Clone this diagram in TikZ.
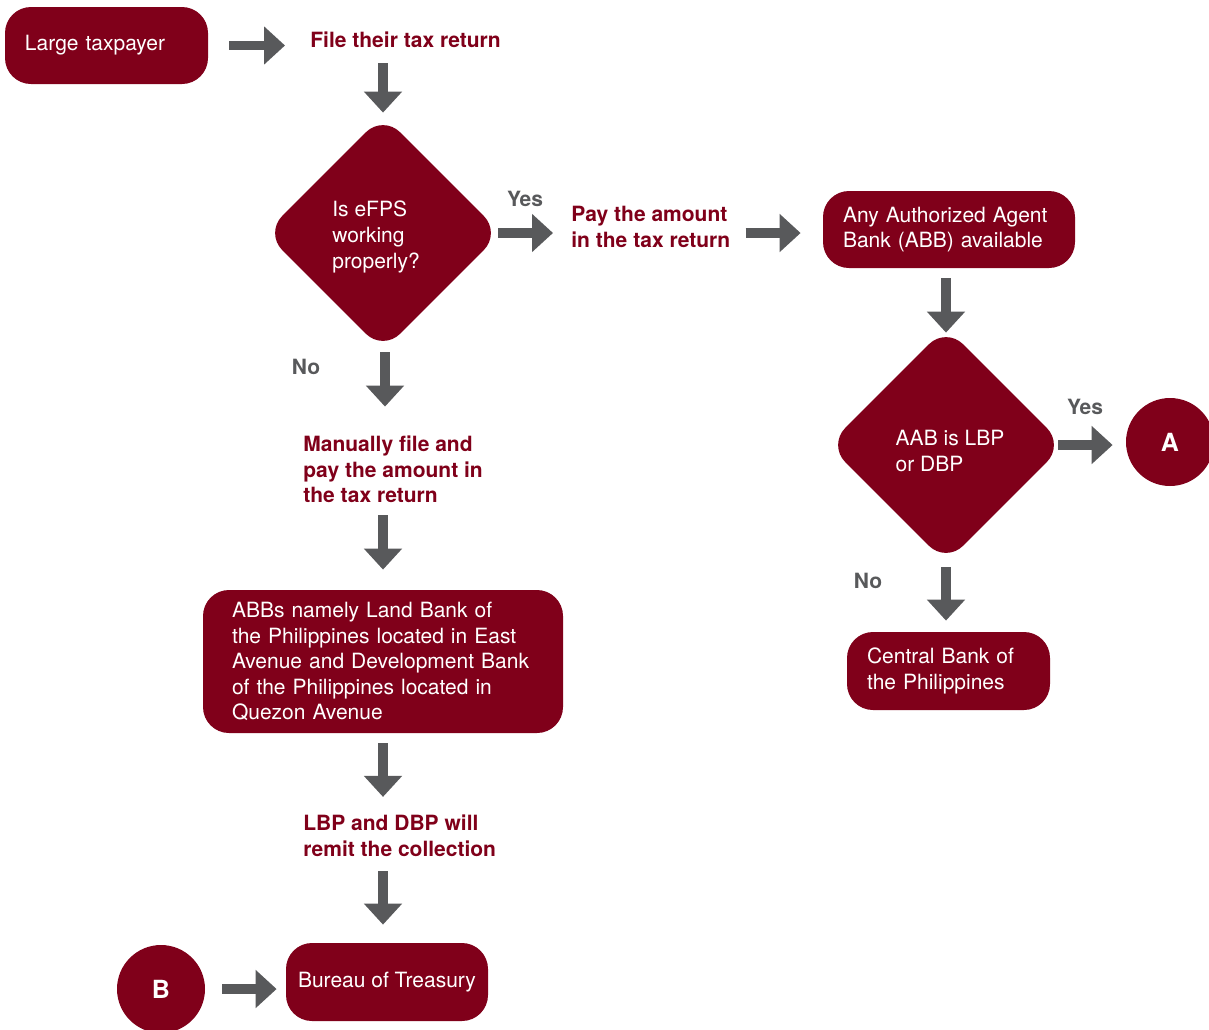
\documentclass[tikz,border=0pt]{standalone}
\usepackage{fontspec}
\setmainfont{TeX Gyre Heros}
\usepackage{xcolor}
\usetikzlibrary{positioning,shapes.geometric,arrows.meta}
\definecolor{bred}{HTML}{80001A}
\definecolor{agray}{HTML}{58595B}

\begin{document}
\begin{tikzpicture}[
  x=0.5pt, y=-0.5pt,
  font=\fontsize{10.5}{12.8}\selectfont,
  rbox/.style={fill=bred, text=white, rounded corners=13pt, align=left,
               inner xsep=10pt, inner ysep=0pt, minimum height=38.5pt},
  qbox/.style={diamond, aspect=1, fill=bred, rounded corners=12pt,
               inner sep=0pt, minimum width=118pt, minimum height=118pt},
  qtxt/.style={text=white, align=left, inner sep=0pt},
  endpt/.style={circle, fill=bred, text=white, minimum size=44pt, inner sep=0pt,
                font=\fontsize{12.5}{14}\selectfont\bfseries},
  redtxt/.style={text=bred, align=left, inner sep=0pt, anchor=west,
                 font=\fontsize{10.5}{12.8}\selectfont\bfseries},
  ans/.style={text=agray, inner sep=0pt, font=\fontsize{10.5}{12.8}\selectfont\bfseries},
  arr/.style={draw=agray, line width=4.75pt, -{Triangle[length=10.5pt, width=18.5pt]}}
]
\fill[white] (0,0) rectangle (1209,1029);
\useasboundingbox (0,0) rectangle (1209,1029);

% left column
\node[rbox, text width=81.5pt, minimum width=101.5pt] (tax) at (106.5,45.5) {Large taxpayer};
\node[redtxt] (file) at (310,40) {File their tax return};
\node[qbox] (q1) at (383,233) {};
\node[qtxt] (q1t) at ([xshift=-3.5pt, yshift=-2pt]q1) {Is eFPS\\working\\properly?};
\node[redtxt] (manual) at (303,469.5) {Manually file and\\pay the amount in\\the tax return};
\node[rbox, text width=151pt, inner xsep=14.5pt, minimum width=180pt, minimum height=71.5pt] (abbs) at (383,661.5)
  {ABBs namely Land Bank of\\the Philippines located in East\\Avenue and Development Bank\\of the Philippines located in\\Quezon Avenue};
\node[redtxt] (remit) at (303,836) {LBP and DBP will\\remit the collection};
\node[rbox, align=center, minimum width=101pt, minimum height=39pt, inner xsep=0pt] (bot) at (387,982) {Bureau of Treasury};
\node[endpt] (B) at (161,989) {B};

% right column
\node[redtxt] (pay) at (571,226.8) {Pay the amount\\in the tax return};
\node[rbox, text width=106pt, minimum width=126pt] (aab) at (949,229.5) {Any Authorized Agent\\Bank (ABB) available};
\node[qbox] (q2) at (946,445) {};
\node[qtxt] (q2t) at ([xshift=2pt, yshift=-3pt]q2) {AAB is LBP\\or DBP};
\node[endpt] (A) at (1170,442) {A};
\node[rbox, text width=81.5pt, minimum width=101.5pt, minimum height=39pt] (cbp) at (948.5,671) {Central Bank of\\the Philippines};

% answers
\node[ans] (y1) at (525,199) {Yes};
\node[ans] (n1) at (306,367) {No};
\node[ans] (y2) at (1085,407) {Yes};
\node[ans] (n2) at (868,581) {No};

% connectors
\path[arr, shorten <=10.5pt, shorten >=12.5pt] (tax.east) -- (tax.east -| file.west);
\path[arr, shorten <=7.5pt, shorten >=1pt] (file.south -| q1) -- (q1.north);
\path[arr, shorten <=-1.5pt, shorten >=9pt] (q1.east) -- (q1.east -| pay.west);
\path[arr, shorten <=7.5pt, shorten >=11pt] (pay.east |- q1) -- (aab.west |- q1);
\path[arr, shorten <=5pt, shorten >=-3pt] (aab.south -| q2) -- (q2.north);
\path[arr, shorten <=-3pt, shorten >=6.5pt] (q2.east) -- (q2.east -| A.west);
\path[arr, shorten <=2pt, shorten >=5.5pt] (q2.south) -- (q2.south |- cbp.north);
\path[arr, shorten <=0.5pt, shorten >=14.5pt] ([xshift=1pt]q1.south) -- ([xshift=1pt]q1.south |- manual.north);
\path[arr, shorten <=6pt, shorten >=10pt] (manual.south -| abbs) -- (abbs.north);
\path[arr, shorten <=5pt, shorten >=9pt] (abbs.south) -- (abbs.south |- remit.north);
\path[arr, shorten <=7pt, shorten >=9pt] (remit.south -| abbs) -- (bot.north -| abbs);
\path[arr, shorten <=8.5pt, shorten >=4.5pt] (B.east) -- (B.east -| bot.west);
\end{tikzpicture}
\end{document}
